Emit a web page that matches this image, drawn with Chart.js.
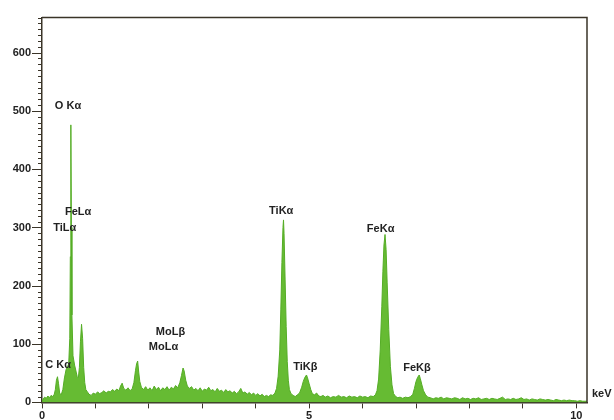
<!DOCTYPE html>
<html>
<head>
<meta charset="utf-8">
<script src="https://cdn.jsdelivr.net/npm/chart.js@4"></script>
<style>
  body { margin: 0; background: #fff; }
  canvas { display: block; }
</style>
</head>
<body>
<canvas id="spectrum" width="614" height="420"></canvas>
<script>
// EDS spectrum, energy in keV and counts
const energy = [
  0.00, 0.02, 0.05, 0.08, 0.11, 0.14, 0.17, 0.20, 0.23, 0.25, 0.27, 0.29, 0.31, 0.33, 0.36, 0.39,
  0.42, 0.45, 0.48, 0.50, 0.52, 0.53, 0.54, 0.55, 0.56, 0.58, 0.61, 0.64, 0.66, 0.68, 0.70, 0.72,
  0.74, 0.76, 0.78, 0.80, 0.82, 0.85, 0.88, 0.92, 0.96, 1.00, 1.04, 1.08, 1.12, 1.16, 1.20, 1.24,
  1.28, 1.32, 1.36, 1.40, 1.44, 1.47, 1.50, 1.53, 1.57, 1.61, 1.65, 1.69, 1.72, 1.75, 1.77, 1.79,
  1.81, 1.83, 1.86, 1.90, 1.94, 1.98, 2.02, 2.06, 2.10, 2.14, 2.18, 2.22, 2.26, 2.30, 2.34, 2.38,
  2.42, 2.46, 2.50, 2.54, 2.58, 2.61, 2.64, 2.66, 2.69, 2.72, 2.76, 2.80, 2.84, 2.88, 2.92, 2.96,
  3.00, 3.04, 3.08, 3.12, 3.16, 3.20, 3.24, 3.28, 3.32, 3.36, 3.40, 3.44, 3.48, 3.52, 3.56, 3.60,
  3.64, 3.68, 3.72, 3.76, 3.80, 3.84, 3.88, 3.92, 3.96, 4.00, 4.04, 4.08, 4.12, 4.16, 4.20, 4.24,
  4.28, 4.32, 4.36, 4.39, 4.42, 4.45, 4.47, 4.49, 4.51, 4.52, 4.53, 4.55, 4.57, 4.59, 4.61, 4.63,
  4.66, 4.70, 4.74, 4.78, 4.82, 4.86, 4.89, 4.92, 4.95, 4.97, 5.00, 5.03, 5.06, 5.10, 5.14, 5.18,
  5.22, 5.26, 5.30, 5.35, 5.40, 5.45, 5.50, 5.55, 5.60, 5.65, 5.70, 5.75, 5.80, 5.85, 5.90, 5.95,
  6.00, 6.05, 6.10, 6.15, 6.20, 6.24, 6.27, 6.30, 6.33, 6.36, 6.38, 6.40, 6.42, 6.44, 6.46, 6.49,
  6.52, 6.55, 6.58, 6.62, 6.66, 6.70, 6.75, 6.80, 6.85, 6.90, 6.94, 6.97, 7.00, 7.03, 7.06, 7.08,
  7.11, 7.14, 7.18, 7.22, 7.27, 7.32, 7.37, 7.42, 7.47, 7.52, 7.57, 7.62, 7.67, 7.72, 7.77, 7.82,
  7.87, 7.92, 7.97, 8.02, 8.07, 8.12, 8.17, 8.22, 8.27, 8.32, 8.37, 8.42, 8.47, 8.52, 8.57, 8.62,
  8.67, 8.72, 8.77, 8.82, 8.87, 8.92, 8.97, 9.02, 9.07, 9.12, 9.17, 9.22, 9.27, 9.32, 9.37, 9.42,
  9.47, 9.52, 9.57, 9.62, 9.67, 9.72, 9.77, 9.82, 9.87, 9.92, 9.97, 10.02, 10.07, 10.12, 10.20
];
const counts = [
  0, 6, 9, 7, 11, 8, 12, 10, 14, 22, 38, 44, 32, 16, 13, 22,
  42, 56, 62, 66, 110, 250, 476, 300, 150, 80, 64, 52, 44, 42, 60, 105,
  134, 110, 60, 34, 22, 18, 14, 12, 16, 14, 18, 15, 17, 20, 16, 19,
  18, 22, 19, 23, 20, 28, 33, 24, 21, 25, 20, 24, 34, 55, 66, 71,
  52, 36, 26, 22, 27, 21, 25, 20, 28, 22, 26, 20, 25, 22, 27, 21,
  26, 23, 29, 25, 34, 46, 59, 54, 38, 28, 24, 27, 21, 24, 20, 25,
  19, 23, 21, 26, 20, 22, 18, 24, 19, 21, 17, 22, 18, 20, 16, 19,
  15, 18, 24, 16, 18, 14, 17, 13, 16, 12, 15, 11, 14, 10, 12, 10,
  13, 12, 16, 24, 45, 90, 160, 240, 300, 313, 290, 210, 130, 70, 38, 22,
  15, 12, 10, 13, 16, 26, 36, 43, 47, 42, 32, 22, 15, 13, 16, 11,
  10, 12, 9, 11, 8, 10, 9, 12, 9, 10, 8, 11, 9, 10, 8, 11,
  9, 10, 8, 11, 10, 13, 20, 40, 90, 165, 225, 270, 288, 262, 205, 125,
  62, 30, 15, 10, 8, 9, 7, 9, 8, 10, 14, 24, 36, 43, 47, 41,
  30, 20, 13, 9, 8, 6, 8, 7, 9, 6, 8, 7, 6, 8, 7, 5,
  8, 6, 7, 5, 7, 6, 8, 5, 6, 7, 5, 7, 6, 5, 7, 9,
  5, 6, 5, 7, 5, 6, 8, 5, 6, 4, 6, 5, 4, 6, 5, 4,
  5, 4, 3, 5, 4, 3, 4, 3, 4, 3, 3, 2, 3, 2, 2
];

// peak labels, anchored at (keV, counts) of their left/middle point
const peakNames = ['O Kα', 'FeLα', 'TiLα', 'C Kα', 'MoLβ', 'MoLα', 'TiKα', 'TiKβ', 'FeKα', 'FeKβ'];
const peakKeV = [0.24, 0.43, 0.21, 0.06, 2.13, 2.00, 4.25, 4.70, 6.08, 6.76];
const peakCounts = [508, 327, 300, 64, 120, 95, 328, 61, 298, 59];

const xLabels = [0, 5, 10];
const yLabels = [0, 100, 200, 300, 400, 500, 600];

const axisColor = '#3a3428';
const textColor = '#222';

const points = energy.map((e, i) => ({ x: e, y: counts[i] }));

const frameAndLabels = {
  id: 'frameAndLabels',
  afterDraw(chart) {
    const { ctx, chartArea: area, scales } = chart;
    const x = scales.x, y = scales.y;
    ctx.save();

    // top and right border of the plot box
    ctx.strokeStyle = axisColor;
    ctx.lineWidth = 1.5;
    ctx.beginPath();
    ctx.moveTo(area.left, area.top);
    ctx.lineTo(area.right, area.top);
    ctx.lineTo(area.right, area.bottom);
    ctx.stroke();

    // y ticks: short every 10, long on the labelled ones
    ctx.lineWidth = 1;
    y.ticks.forEach(t => {
      const py = Math.round(y.getPixelForValue(t.value)) + 0.5;
      const len = yLabels.includes(t.value) ? 10 : 4;
      ctx.beginPath();
      ctx.moveTo(area.left - len, py);
      ctx.lineTo(area.left, py);
      ctx.stroke();
    });

    // peak names
    ctx.fillStyle = textColor;
    ctx.font = 'bold 11px "Liberation Sans", Arial, sans-serif';
    ctx.textAlign = 'left';
    ctx.textBaseline = 'middle';
    peakNames.forEach((name, i) => {
      ctx.fillText(name, x.getPixelForValue(peakKeV[i]), y.getPixelForValue(peakCounts[i]));
    });

    // unit at the end of the energy axis
    ctx.fillText('keV', area.right + 5, area.bottom - 8);
    ctx.restore();
  }
};

new Chart(document.getElementById('spectrum'), {
  type: 'line',
  data: {
    datasets: [{
      data: points,
      borderColor: '#55ad26',
      backgroundColor: '#66bb33',
      borderWidth: 1,
      pointRadius: 0,
      tension: 0,
      fill: 'origin'
    }]
  },
  options: {
    responsive: false,
    animation: false,
    layout: { padding: { top: 13, right: 27, left: 0, bottom: 0 } },
    plugins: { legend: { display: false }, tooltip: { enabled: false } },
    scales: {
      x: {
        type: 'linear',
        min: 0,
        max: 10.2,
        afterFit: s => { s.height = 17; },
        grid: { drawOnChartArea: false, tickLength: 6, color: axisColor },
        border: { color: axisColor, width: 1.5 },
        ticks: {
          stepSize: 1,
          autoSkip: false,
          includeBounds: false,
          maxRotation: 0,
          padding: 1,
          color: textColor,
          font: { family: '"Liberation Sans", Arial, sans-serif', size: 11, weight: 'bold' },
          callback: v => xLabels.includes(v) ? v : ''
        }
      },
      y: {
        min: 0,
        max: 660,
        afterFit: s => { s.width = 42; },
        grid: { drawOnChartArea: false, drawTicks: false },
        border: { color: axisColor, width: 1.5 },
        ticks: {
          stepSize: 10,
          autoSkip: false,
          padding: 11,
          color: textColor,
          font: { family: '"Liberation Sans", Arial, sans-serif', size: 11, weight: 'bold' },
          callback: v => yLabels.includes(v) ? v : ''
        }
      }
    }
  },
  plugins: [frameAndLabels]
});
</script>
</body>
</html>
